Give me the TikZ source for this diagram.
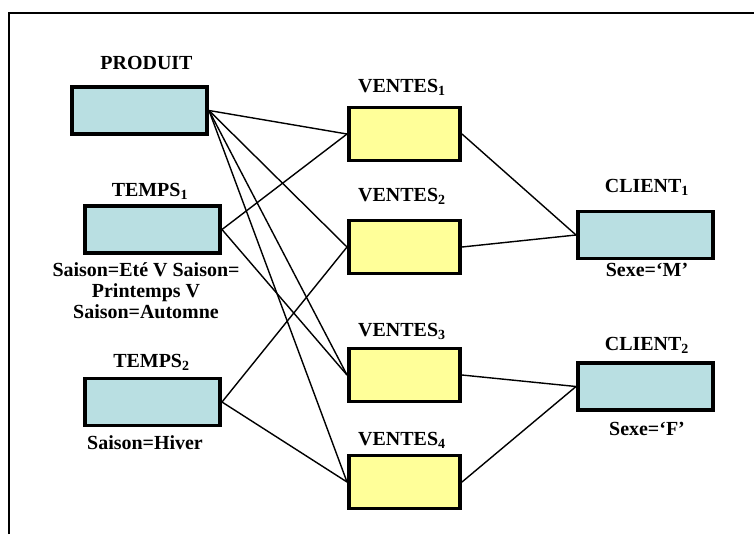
\documentclass[tikz,border=0pt]{standalone}
\usepackage{fontspec}
\setmainfont{Liberation Serif}
\definecolor{dimblue}{RGB}{185,223,226}
\definecolor{factyellow}{RGB}{255,255,153}

\begin{document}
\begin{tikzpicture}[x=0.025cm, y=-0.025cm,
  dimbox/.style={draw, line width=2.8pt, fill=dimblue, minimum width=3.375cm, minimum height=1.175cm, inner sep=0pt},
  factbox/.style={draw, line width=2.8pt, fill=factyellow, minimum width=2.775cm, minimum height=1.325cm, inner sep=0pt},
  boxtitle/.style={anchor=base, inner sep=0pt, align=center, font=\bfseries\fontsize{14.2}{14.6}\selectfont},
  link/.style={line width=1pt}
]
\useasboundingbox (0,0) rectangle (754,534);

% Frame
\draw[line width=1.9pt] (9,534) -- (9,13) -- (754,13);

% Dimension tables
\node[dimbox] (produit) at (139.5,110.5) {};
\node[dimbox] (temps1) at (152.5,229.5) {};
\node[dimbox] (temps2) at (152.5,402) {};
\node[dimbox] (client1) at (645.5,235) {};
\node[dimbox] (client2) at (645.5,386.5) {};

% Fact fragments
\node[factbox] (ventes1) at (404.5,134) {};
\node[factbox] (ventes2) at (404.5,247) {};
\node[factbox] (ventes3) at (404.5,375) {};
\node[factbox] (ventes4) at (404.5,482) {};

% Titles and conditions
\node[boxtitle] (tProduit) at (146.5,69) {PRODUIT};
\node[boxtitle] (tTemps1) at (150,196) {TEMPS\textsubscript{1}};
\node[boxtitle] (cTemps1) at (146,318) {Saison=Eté V Saison=\\Printemps V\\Saison=Automne};
\node[boxtitle] (tTemps2) at (151.5,367) {TEMPS\textsubscript{2}};
\node[boxtitle] (cTemps2) at (145,449) {Saison=Hiver};
\node[boxtitle] (tVentes1) at (402,92) {VENTES\textsubscript{1}};
\node[boxtitle] (tVentes2) at (402,201) {VENTES\textsubscript{2}};
\node[boxtitle] (tVentes3) at (402,336) {VENTES\textsubscript{3}};
\node[boxtitle] (tVentes4) at (402,445) {VENTES\textsubscript{4}};
\node[boxtitle] (tClient1) at (647,192) {CLIENT\textsubscript{1}};
\node[boxtitle] (cClient1) at (647,276) {Sexe=‘M’};
\node[boxtitle] (tClient2) at (647,350) {CLIENT\textsubscript{2}};
\node[boxtitle] (cClient2) at (647,435) {Sexe=‘F’};

% Links
\foreach \i in {1,...,4} {
  \draw[link] (produit.east) -- (ventes\i.west);
}
\draw[link] (temps1.east) -- (ventes1.west);
\draw[link] (temps1.east) -- (ventes3.west);
\draw[link] (temps2.east) -- (ventes2.west);
\draw[link] (temps2.east) -- (ventes4.west);
\draw[link] (ventes1.east) -- (client1.west);
\draw[link] (ventes2.east) -- (client1.west);
\draw[link] (ventes3.east) -- (client2.west);
\draw[link] (ventes4.east) -- (client2.west);

\end{tikzpicture}
\end{document}
